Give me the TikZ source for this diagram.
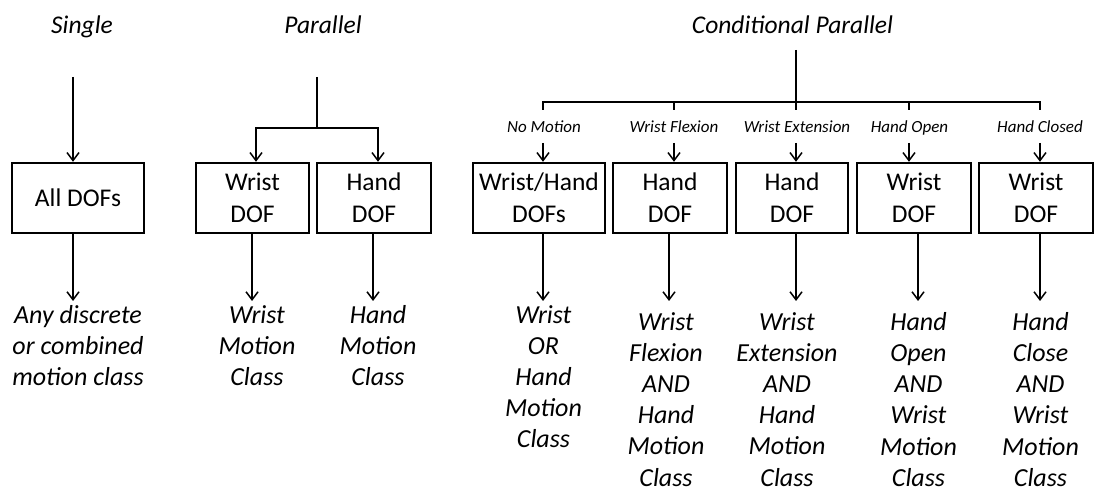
\documentclass[tikz,border=0pt]{standalone}
\usepackage{fontspec}
\setmainfont{Carlito}
\usetikzlibrary{arrows.meta}
\begin{document}
\begin{tikzpicture}[x=1pt,y=-1pt,
  box/.style={draw, line width=2.4pt, minimum height=70pt, align=center, inner sep=0pt, font=\fontsize{25.5}{32}\selectfont},
  arr/.style={line width=1.5pt, -{Straight Barb[length=8pt,width=12pt,line width=1.5pt]}},
  ln/.style={line width=1.5pt},
  ttl/.style={font=\itshape\fontsize{25.5}{30}\selectfont, anchor=base, inner sep=0pt},
  outtxt/.style={align=center, font=\itshape\fontsize{26}{31.2}\selectfont, anchor=north, inner xsep=0pt},
  condlbl/.style={font=\itshape\fontsize{17}{20}\selectfont, anchor=base, inner sep=0pt}
]
\useasboundingbox (0,0) rectangle (1095,494);
% titles
\node[ttl] (tS) at (82,34) {Single};
\node[ttl] (tP) at (323,34) {Parallel};
\node[ttl] (tC) at (792.5,34) {Conditional Parallel};
% boxes
\node[box, minimum width=132pt] (all) at (78,198) {All DOFs};
\node[box, minimum width=113pt] (wr) at (252.5,198) {Wrist\\DOF};
\node[box, minimum width=114pt] (hd) at (374,198) {Hand\\DOF};
\node[box, minimum width=132pt] (b1) at (539,198) {Wrist/Hand\\DOFs};
\node[box, minimum width=114pt] (b2) at (670,198) {Hand\\DOF};
\node[box, minimum width=112pt] (b3) at (792,198) {Hand\\DOF};
\node[box, minimum width=114pt] (b4) at (914,198) {Wrist\\DOF};
\node[box, minimum width=114pt] (b5) at (1036,198) {Wrist\\DOF};
% outputs
\node[outtxt, inner ysep=4pt] (oS) at (78,301) {Any discrete\\or combined\\motion class};
\node[outtxt, inner ysep=4pt] (oW) at (257,301) {Wrist\\Motion\\Class};
\node[outtxt, inner ysep=4pt] (oH) at (378,301) {Hand\\Motion\\Class};
\node[outtxt, inner ysep=4pt] (o1) at (543.5,301) {Wrist\\OR\\Hand\\Motion\\Class};
\node[outtxt, inner ysep=1pt] (o2) at (666,311) {Wrist\\Flexion\\AND\\Hand\\Motion\\Class};
\node[outtxt, inner ysep=1pt] (o3) at (787,311) {Wrist\\Extension\\AND\\Hand\\Motion\\Class};
\node[outtxt, inner ysep=1pt] (o4) at (918.5,311) {Hand\\Open\\AND\\Wrist\\Motion\\Class};
\node[outtxt, inner ysep=1pt] (o5) at (1040.5,311) {Hand\\Close\\AND\\Wrist\\Motion\\Class};
% condition labels
\node[condlbl] (l1) at (544,133) {No Motion};
\node[condlbl] (l2) at (674,133) {Wrist Flexion};
\node[condlbl] (l3) at (797,133) {Wrist Extension};
\node[condlbl] (l4) at (909.5,133) {Hand Open};
\node[condlbl] (l5) at (1040,133) {Hand Closed};
% single
\coordinate (sS) at (73,77);
\draw[arr] (sS) -- (sS |- all.north);
\draw[arr] (sS |- all.south) -- (sS |- oS.north);
% parallel
\coordinate (sP) at (317,77);
\coordinate (jP) at (317,128);
\coordinate (cW) at (256,0);
\coordinate (cH) at (378,0);
\draw[ln] (sP) -- (jP);
\draw[arr] (jP) -| (cW |- wr.north);
\draw[arr] (jP) -| (cH |- hd.north);
\coordinate (dW) at (252,0);
\coordinate (dH) at (373,0);
\draw[arr] (dW |- wr.south) -- (dW |- oW.north);
\draw[arr] (dH |- hd.south) -- (dH |- oH.north);
% conditional parallel
\coordinate (sC) at (796,50);
\coordinate (jC) at (796,102);
\coordinate (t1) at (543,110);
\coordinate (t2) at (674,110);
\coordinate (t3) at (796,110);
\coordinate (t4) at (909,110);
\coordinate (t5) at (1040,110);
\draw[ln] (sC) -- (t3);
\draw[ln] (t1) |- (jC) -| (t5);
\draw[ln] (t2) -- (t2 |- jC);
\draw[ln] (t4) -- (t4 |- jC);
\coordinate (a1) at (543,143);
\coordinate (a2) at (674,143);
\coordinate (a3) at (796,143);
\coordinate (a4) at (909,143);
\coordinate (a5) at (1040,143);
\draw[arr] (a1) -- (a1 |- b1.north);
\draw[arr] (a2) -- (a2 |- b2.north);
\draw[arr] (a3) -- (a3 |- b3.north);
\draw[arr] (a4) -- (a4 |- b4.north);
\draw[arr] (a5) -- (a5 |- b5.north);
\coordinate (d1) at (543,0);
\coordinate (d2) at (669,0);
\coordinate (d3) at (796,0);
\coordinate (d4) at (918,0);
\coordinate (d5) at (1040,0);
\draw[arr] (d1 |- b1.south) -- (d1 |- o1.north);
\draw[arr] (d2 |- b2.south) -- ([yshift=10pt]d2 |- o2.north);
\draw[arr] (d3 |- b3.south) -- ([yshift=10pt]d3 |- o3.north);
\draw[arr] (d4 |- b4.south) -- ([yshift=10pt]d4 |- o4.north);
\draw[arr] (d5 |- b5.south) -- ([yshift=10pt]d5 |- o5.north);
\end{tikzpicture}
\end{document}
